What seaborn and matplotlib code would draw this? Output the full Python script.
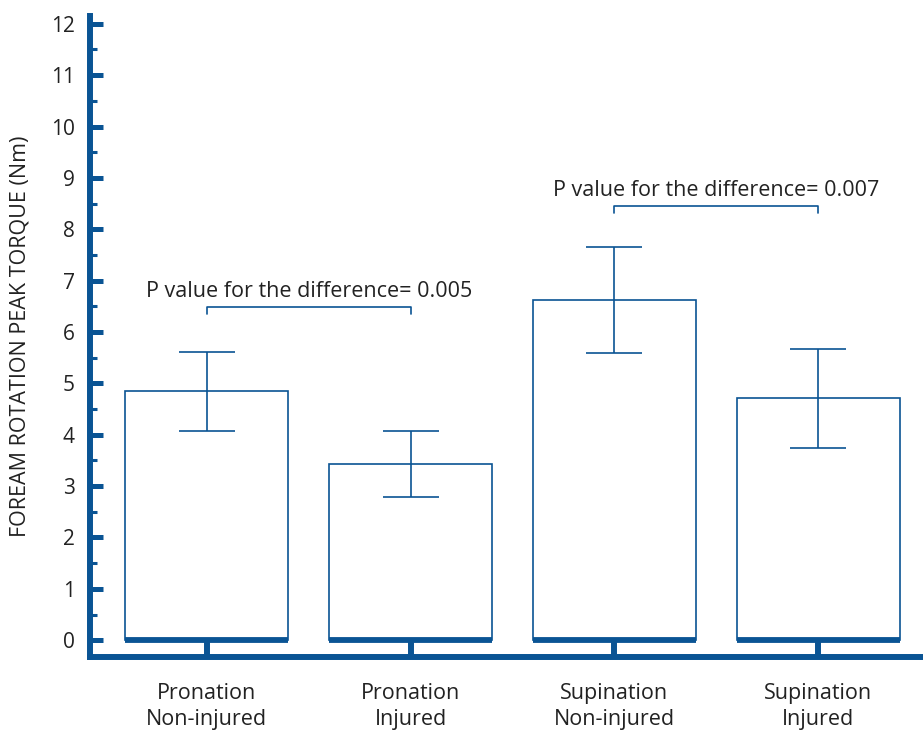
import matplotlib
matplotlib.use("Agg")
import matplotlib.pyplot as plt
import pandas as pd
import seaborn as sns
from matplotlib.ticker import MultipleLocator

# Data
categories = ["Pronation\nNon-injured", "Pronation\nInjured",
              "Supination\nNon-injured", "Supination\nInjured"]
torque_mean = [4.85, 3.43, 6.62, 4.71]
torque_err = [0.77, 0.64, 1.03, 0.96]
p_pairs = [(0, 1), (2, 3)]
p_labels = ["P value for the difference= 0.005", "P value for the difference= 0.007"]
bracket_y = [6.49, 8.45]

BLUE = "#0a5494"
TEXT = "#222222"

sns.set_style("white")
plt.rcParams["font.family"] = ["Open Sans", "DejaVu Sans"]

df = pd.DataFrame({"group": categories, "torque": torque_mean})

fig = plt.figure(figsize=(9.23, 7.31), dpi=100)
ax = fig.add_axes([0.0975, 0.101, 0.9025, 0.877])

sns.barplot(data=df, x="group", y="torque", color="white", edgecolor=BLUE,
            linewidth=1.2, width=0.8, errorbar=None, ax=ax)

centers = []
for p in ax.patches:
    x0, w = p.get_x(), p.get_width()
    centers.append(x0 + w / 2)
    # thick base line under each bar
    ax.plot([x0, x0 + w], [0, 0], color=BLUE, lw=4.2, solid_capstyle="butt", zorder=3)

ax.errorbar(centers, torque_mean, yerr=torque_err, fmt="none", ecolor=BLUE,
            elinewidth=1.2, capsize=20, capthick=1.2, zorder=4)

# significance brackets
drop = 0.14
for (i, j), label, yb in zip(p_pairs, p_labels, bracket_y):
    xi, xj = centers[i], centers[j]
    ax.plot([xi, xi, xj, xj], [yb - drop, yb, yb, yb - drop], color=BLUE, lw=1.2)
    ax.text((xi + xj) / 2, yb + 0.3, label, ha="center", va="center",
            fontsize=15.5, color=TEXT)

ax.set_xlim(-0.574, 3.515)
ax.set_ylim(-0.33, 12.15)
ax.yaxis.set_major_locator(MultipleLocator(1))
ax.yaxis.set_minor_locator(MultipleLocator(0.5))

for side in ["top", "right"]:
    ax.spines[side].set_visible(False)
for side in ["left", "bottom"]:
    ax.spines[side].set_color(BLUE)
    ax.spines[side].set_linewidth(4.3)
    ax.spines[side].set_capstyle("projecting")

ax.tick_params(axis="y", which="major", direction="in", length=9.5, width=3.6,
               color=BLUE, labelsize=15, labelcolor=TEXT, pad=11, left=True)
ax.tick_params(axis="y", which="minor", direction="in", length=5, width=2.2,
               color=BLUE, left=True)
ax.tick_params(axis="x", which="major", direction="in", length=12, width=4.3,
               color=BLUE, labelsize=15.5, labelcolor=TEXT, pad=18.5, bottom=True)
for lbl in ax.get_xticklabels():
    lbl.set_linespacing(1.3)

ax.set_xlabel("")
ax.set_ylabel("FOREAM ROTATION PEAK TORQUE (Nm)", fontsize=15.5, color=TEXT)
ax.yaxis.set_label_coords(-0.071, 0.5)
ax.grid(False)

fig.savefig("out.png", dpi=100)
